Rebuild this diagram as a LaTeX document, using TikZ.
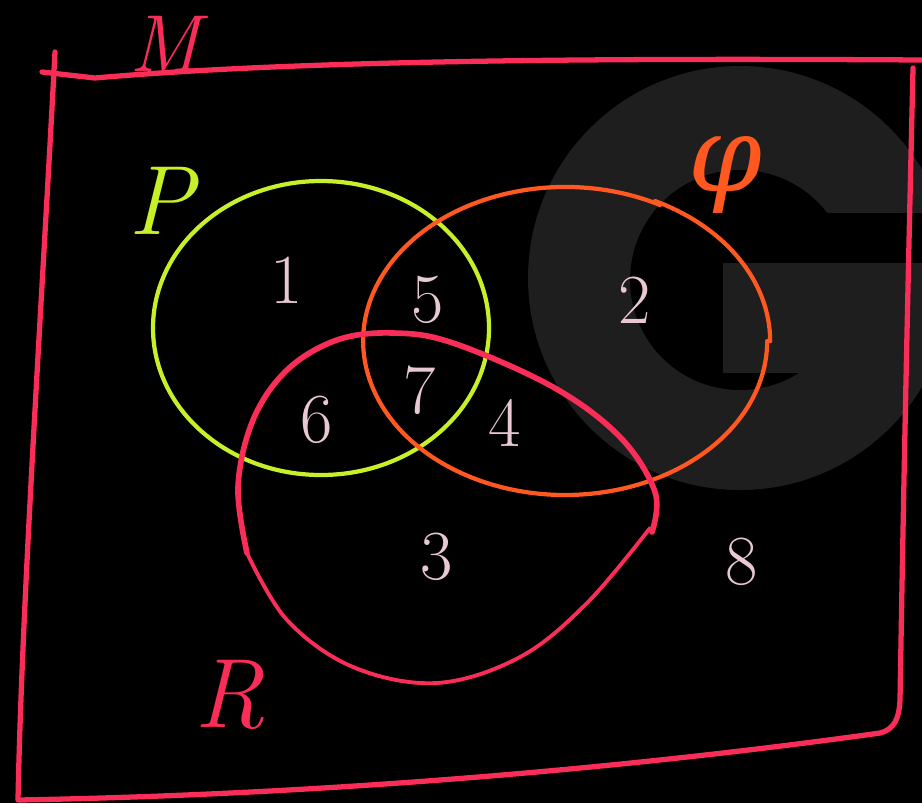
\documentclass[tikz,border=0pt]{standalone}
\usepackage{fontspec}
\newfontfamily\greekfont{DejaVu Serif}
\usepackage{tikz}
\usetikzlibrary{positioning}
\usepackage{xcolor}
\definecolor{framepink}{RGB}{250, 45, 88}
\definecolor{setyellow}{RGB}{200, 240, 40}
\definecolor{setorange}{RGB}{255, 88, 32}
\definecolor{numpink}{RGB}{232, 200, 210}
\definecolor{markgray}{RGB}{30, 30, 30}
\tikzset{
  frameline/.style={draw=framepink, line width=1.5pt, line cap=round, line join=round},
  pline/.style={draw=setyellow, line width=1.2pt},
  qline/.style={draw=setorange, line width=1.2pt, line cap=round},
  rline/.style={draw=framepink, line width=1.3pt, line cap=round},
  numlabel/.style={text=numpink, font=\fontsize{20}{24}\selectfont, inner sep=0pt},
  setlabel/.style={font=\fontsize{28}{32}\selectfont\itshape, inner sep=0pt},
}

\begin{document}
\begin{tikzpicture}[x=0.01cm, y=-0.01cm]
        \fill[black] (0,0) rectangle (922,803);
        \useasboundingbox (0,0) rectangle (922,803);
        % watermark
        \begin{scope}
          \clip (0,0) rectangle (922,803);
          \fill[markgray] (740,278) circle [radius=212];
          \fill[black] (740,280) circle [radius=110];
          \fill[black] (740,213) rectangle (960,263);
          \fill[markgray] (723,263) rectangle (852,373);
        \end{scope}
        % sets
        \draw[pline] (321,328) ellipse [x radius=168, y radius=147];
        \draw[qline] (660,205) arc [start angle=-62, end angle=-360, x radius=202, y radius=154];
        \draw[qline] (655,201) arc [start angle=-64, end angle=0, x radius=205, y radius=156];
        \draw[rline, line width=1.6pt] plot[smooth, tension=0.6] coordinates {
          (652,532) (655,492) (620,437) (553,387) (453,343) (393,333) (337,340)
          (287,370) (253,420) (238,487) (247,553)};
        \draw[rline, line width=1.1pt] plot[smooth, tension=0.6] coordinates {
          (247,553) (287,620) (353,667) (437,683) (520,657) (587,603) (650,528)};
        % universe
        \draw[frameline] (55,52) .. controls (42,300) and (22,600) .. (18,800)
          .. controls (300,795) and (600,772) .. (880,733)
          .. controls (895,729) and (899,718) .. (900,700)
          .. controls (905,400) and (910,200) .. (913,68);
        \draw[frameline] (42,72) -- (95,78) .. controls (300,60) and (600,58) .. (922,60);
        % labels
        \node[setlabel, text=framepink, font=\fontsize{23}{26}\selectfont\itshape] (lblM) at (165,44) {M};
        \node[setlabel, text=setyellow] (lblP) at (161,201) {P};
        \node[setlabel, text=setorange, font=\fontsize{30}{34}\selectfont\greekfont\itshape] (lblQ) at (725,175) {φ};
        \node[setlabel, text=framepink] (lblR) at (230,695) {R};
        \node[numlabel] (n1) at (287,280) {1};
        \node[numlabel] (n5) at (428,300) {5};
        \node[numlabel] (n2) at (635,300) {2};
        \node[numlabel] (n7) at (420,390) {7};
        \node[numlabel] (n6) at (317,420) {6};
        \node[numlabel] (n4) at (505,423) {4};
        \node[numlabel] (n3) at (437,557) {3};
        \node[numlabel] (n8) at (742,562) {8};
      \end{tikzpicture}
\end{document}
